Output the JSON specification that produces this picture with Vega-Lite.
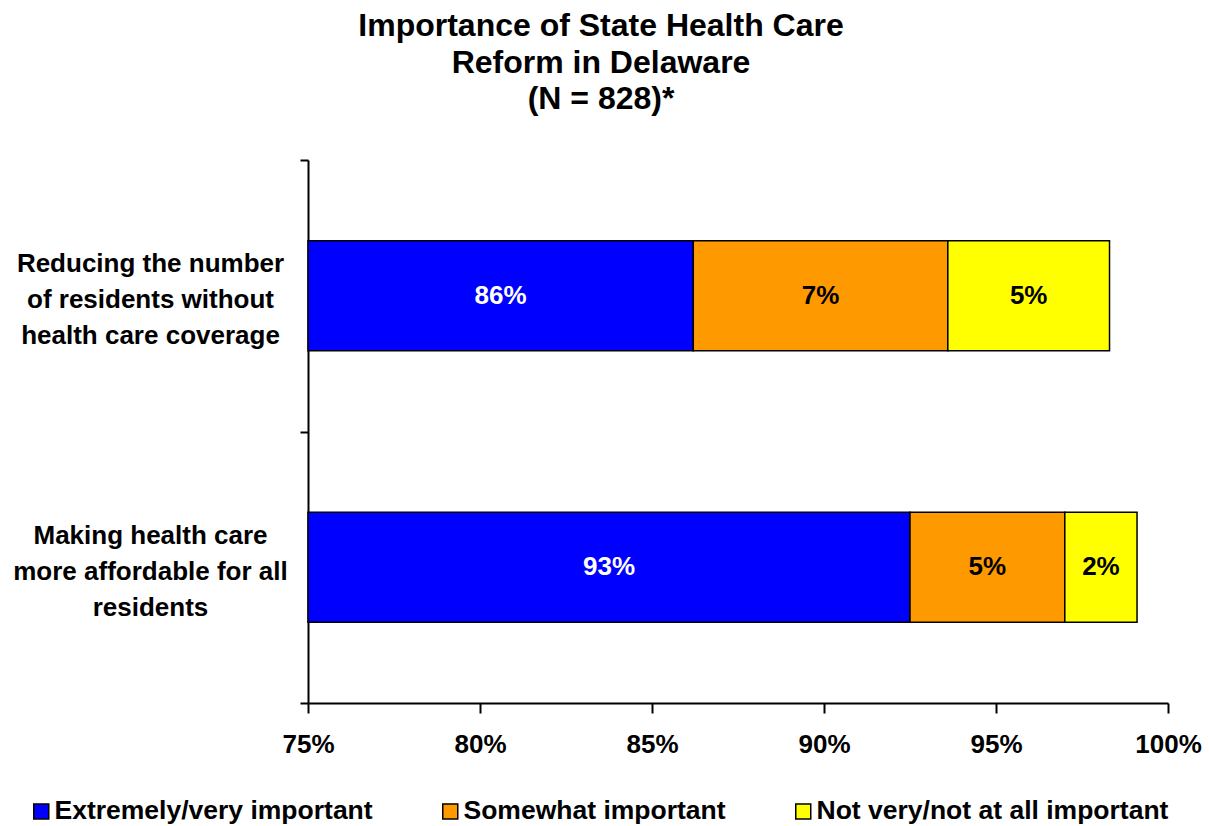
{
  "$schema": "https://vega.github.io/schema/vega-lite/v6.json",
  "autosize": "none",
  "width": 860,
  "height": 543,
  "padding": {"left": 308, "top": 160, "right": 41, "bottom": 123},
  "background": "white",
  "title": {
    "text": ["Importance of State Health Care", "Reform in Delaware", "(N = 828)*"],
    "font": "Liberation Sans",
    "fontSize": 32,
    "fontWeight": "bold",
    "color": "black",
    "lineHeight": 36.5,
    "anchor": "middle",
    "dx": -137,
    "offset": 31
  },
  "config": {
    "view": {"stroke": null},
    "font": "Liberation Sans"
  },
  "data": {
    "values": [
      {"item": "Reducing the number of residents without health care coverage", "response": "Extremely/very important", "start": 75, "end": 86.2, "label": "86%"},
      {"item": "Reducing the number of residents without health care coverage", "response": "Somewhat important", "start": 86.2, "end": 93.6, "label": "7%"},
      {"item": "Reducing the number of residents without health care coverage", "response": "Not very/not at all important", "start": 93.6, "end": 98.3, "label": "5%"},
      {"item": "Making health care more affordable for all residents", "response": "Extremely/very important", "start": 75, "end": 92.5, "label": "93%"},
      {"item": "Making health care more affordable for all residents", "response": "Somewhat important", "start": 92.5, "end": 97.0, "label": "5%"},
      {"item": "Making health care more affordable for all residents", "response": "Not very/not at all important", "start": 97.0, "end": 99.1, "label": "2%"}
    ]
  },
  "encoding": {
    "y": {
      "field": "item",
      "type": "nominal",
      "sort": ["Reducing the number of residents without health care coverage", "Making health care more affordable for all residents"],
      "scale": {"paddingInner": 0, "paddingOuter": 0},
      "axis": {
        "title": null,
        "domainColor": "black",
        "domainWidth": 2,
        "tickColor": "black",
        "tickWidth": 2,
        "tickSize": 8,
        "tickBand": "extent",
        "labelAlign": "center",
        "labelBaseline": "middle",
        "labelPadding": 150,
        "labelOffset": -32,
        "labelFont": "Liberation Sans",
        "labelFontSize": 26,
        "labelFontWeight": "bold",
        "labelColor": "black",
        "labelLineHeight": 36,
        "labelLimit": 400,
        "labelExpr": "datum.value == 'Reducing the number of residents without health care coverage' ? ['Reducing the number', 'of residents without', 'health care coverage'] : datum.value == 'Making health care more affordable for all residents' ? ['Making health care', 'more affordable for all', 'residents'] : ''"
      }
    }
  },
  "layer": [
    {
      "mark": {"type": "bar", "size": 110, "stroke": "black", "strokeWidth": 1.5},
      "encoding": {
        "x": {
          "field": "start",
          "type": "quantitative",
          "scale": {"domain": [75, 100], "nice": false, "zero": false},
          "axis": {
            "title": null,
            "values": [75, 80, 85, 90, 95, 100],
            "labelExpr": "datum.value + '%'",
            "grid": false,
            "domainColor": "black",
            "domainWidth": 2,
            "tickColor": "black",
            "tickWidth": 2,
            "tickSize": 10,
            "labelPadding": 18,
            "labelFont": "Liberation Sans",
            "labelFontSize": 26,
            "labelFontWeight": "bold",
            "labelColor": "black",
            "labelFlush": false
          }
        },
        "x2": {"field": "end"},
        "color": {
          "field": "response",
          "type": "nominal",
          "scale": {
            "domain": ["Extremely/very important", "Somewhat important", "Not very/not at all important"],
            "range": ["#0000FF", "#FF9900", "#FFFF00"]
          },
          "legend": {
            "title": null,
            "orient": "none",
            "direction": "horizontal",
            "legendX": -280,
            "legendY": 638,
            "symbolType": "square",
            "symbolSize": 225,
            "symbolStrokeColor": "black",
            "symbolStrokeWidth": 1.5,
            "symbolOpacity": 1,
            "labelFont": "Liberation Sans",
            "labelFontSize": 26.5,
            "labelFontWeight": "bold",
            "labelColor": "black",
            "labelOffset": 0,
            "labelLimit": 500,
            "columnPadding": 64
          }
        }
      }
    },
    {
      "transform": [
        {"fold": ["start", "end"], "as": ["edge", "pos"]},
        {"aggregate": [{"op": "mean", "field": "pos", "as": "mid"}], "groupby": ["item", "response", "label"]}
      ],
      "mark": {"type": "text", "font": "Liberation Sans", "fontSize": 26, "fontWeight": "bold", "align": "center", "baseline": "middle"},
      "encoding": {
        "x": {"field": "mid", "type": "quantitative"},
        "text": {"field": "label"},
        "color": {
          "condition": {"test": "datum.response === 'Extremely/very important'", "value": "white"},
          "value": "black"
        }
      }
    }
  ]
}
